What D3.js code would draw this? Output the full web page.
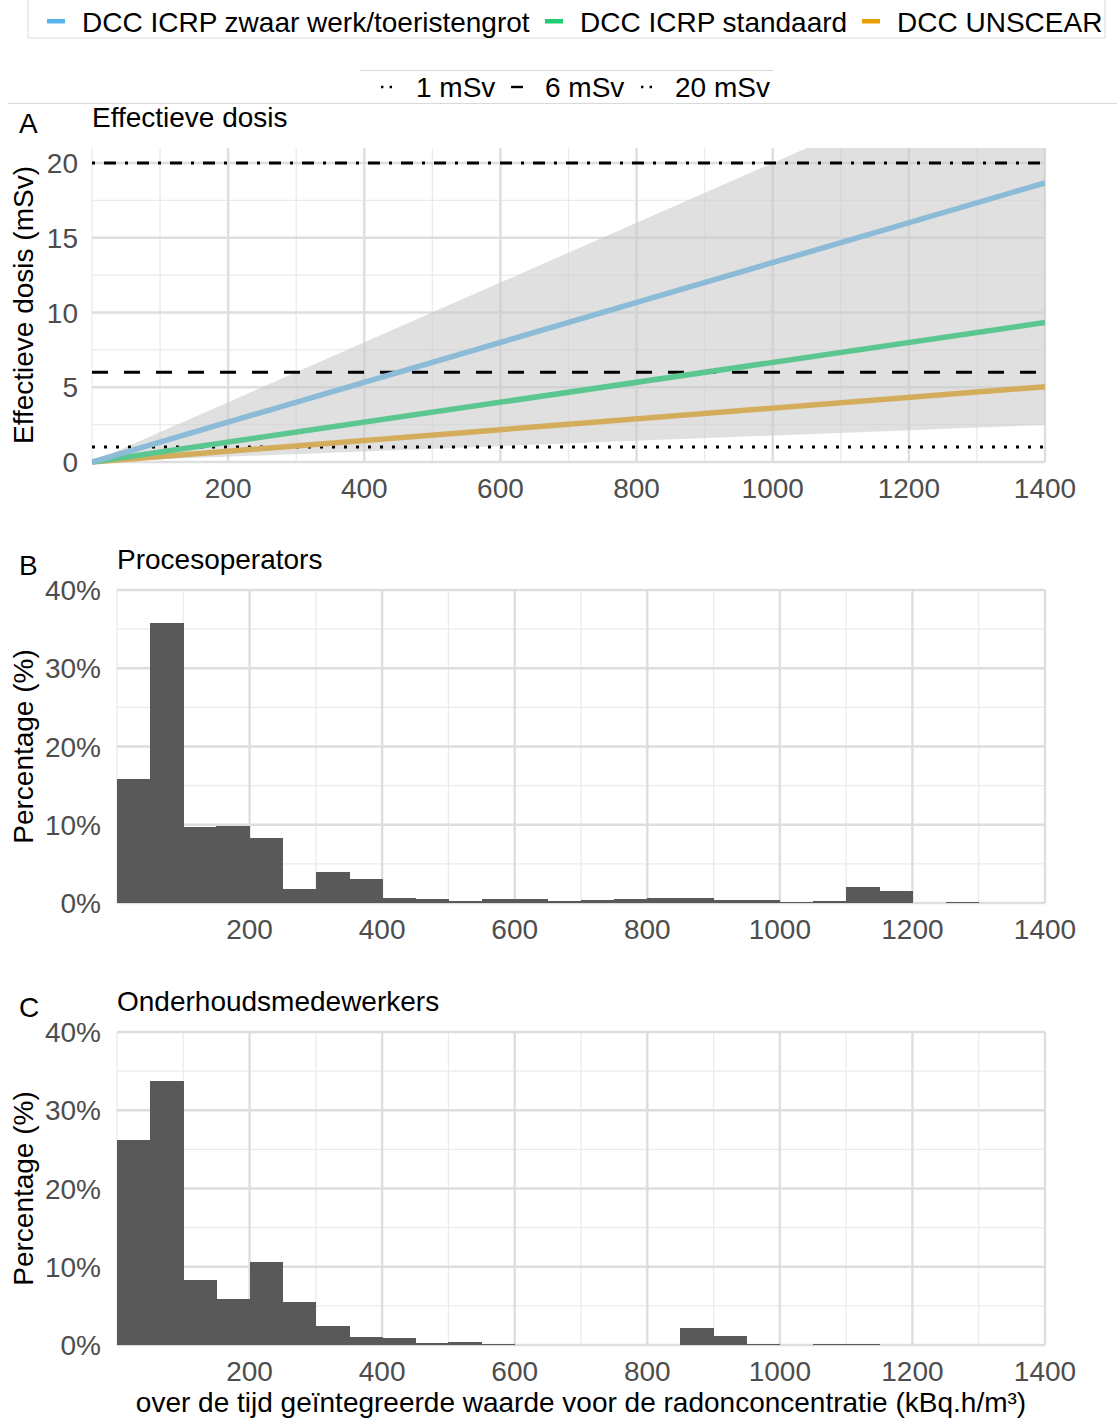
<!DOCTYPE html>
<html>
<head>
<meta charset="utf-8">
<script src="https://cdn.jsdelivr.net/npm/d3@7"></script>
<style>
  body { margin: 0; background: #fff; }
  svg text { font-family: "Liberation Sans", Arial, Helvetica, sans-serif; }
</style>
</head>
<body>
<svg id="chart" width="1117" height="1418"></svg>
<script>
// ---- Panel A: effective dose versus integrated radon exposure ----
const exposure        = [0, 1400];          // kBq.h/m³
const doseHeavyWork   = [0, 18.67];         // mSv, DCC ICRP heavy work / show cave
const doseStandard    = [0, 9.33];          // mSv, DCC ICRP standard
const doseUnscear     = [0, 5.04];          // mSv, DCC UNSCEAR
const bandLower       = [0, 2.48];          // mSv, lower edge of the uncertainty band
const bandUpper       = [0, 28.0];          // mSv, upper edge of the uncertainty band

const seriesNames  = ["DCC ICRP zwaar werk/toeristengrot", "DCC ICRP standaard", "DCC UNSCEAR"];
const keyColors    = ["#56B4E9", "#1FCC6E", "#E6A100"];
const lineColors   = ["#8BBBD7", "#5CC690", "#D4AD5C"];

const refLevels    = [1, 6, 20];
const refLabels    = ["1 mSv", "6 mSv", "20 mSv"];

const doseTicks    = [0, 5, 10, 15, 20];
const doseMinor    = [2.5, 7.5, 12.5, 17.5];
const exposureTicks = [200, 400, 600, 800, 1000, 1200, 1400];
const exposureMinor = [0, 100, 300, 500, 700, 900, 1100, 1300];

// ---- Panels B and C: distribution of exposures (bins of 50 kBq.h/m³) ----
const binStarts = [0, 50, 100, 150, 200, 250, 300, 350, 400, 450, 500, 550, 600, 650,
                   700, 750, 800, 850, 900, 950, 1000, 1050, 1100, 1150, 1200, 1250, 1300, 1350];
const procesoperators = [15.8, 35.8, 9.7, 9.8, 8.3, 1.75, 3.95, 3.05, 0.65, 0.5, 0.2, 0.5, 0.45, 0.25,
                         0.4, 0.5, 0.6, 0.6, 0.35, 0.35, 0.1, 0.2, 2.05, 1.5, 0.05, 0.17, 0.05, 0];
const onderhoud       = [26.2, 33.7, 8.3, 5.9, 10.6, 5.5, 2.45, 1.0, 0.85, 0.3, 0.4, 0.08, 0.05, 0,
                         0, 0, 0, 2.13, 1.2, 0.13, 0, 0.08, 0.08, 0, 0, 0, 0.04, 0];
const binWidth = 50;
const pctTicks = [0, 10, 20, 30, 40];
const pctMinor = [5, 15, 25, 35];

const svg = d3.select("#chart");
const FS = 28;
const tickColor = "#4D4D4D";
const gridMajor = "#DEDEDE", gridMinor = "#EBEBEB";

// ---------- legends ----------
svg.append("rect").attr("x", 28).attr("y", -2).attr("width", 1077).attr("height", 40)
   .attr("fill", "#fff").attr("stroke", "#D9D9D9").attr("stroke-width", 1);
const legKeyX = [47, 545, 862];
const legTextX = [82, 580, 897];
seriesNames.forEach((n, i) => {
  svg.append("rect").attr("x", legKeyX[i]).attr("y", 19).attr("width", 18).attr("height", 4.5)
     .attr("fill", keyColors[i]);
  svg.append("text").attr("x", legTextX[i]).attr("y", 32).attr("font-size", FS).attr("fill", "#000").text(n);
});

svg.append("line").attr("x1", 8).attr("x2", 1117).attr("y1", 103.5).attr("y2", 103.5)
   .attr("stroke", "#D9D9D9").attr("stroke-width", 1);
svg.append("rect").attr("x", 360).attr("y", 70).attr("width", 413).attr("height", 33)
   .attr("fill", "#fff");
svg.append("line").attr("x1", 360).attr("x2", 773).attr("y1", 70.5).attr("y2", 70.5)
   .attr("stroke", "#D9D9D9").attr("stroke-width", 1);

const refDash = ["3,9", "16,16", "3,9,12,9"];
const refKeyDash = ["2.4,6.2", "12,12", "2.4,6.2"];
const refKeyX = [381, 511, 641];
const refKeyLen = [11, 12, 11];
const refTextX = [416, 545, 675];
refLabels.forEach((t, i) => {
  svg.append("line").attr("x1", refKeyX[i]).attr("x2", refKeyX[i] + refKeyLen[i])
     .attr("y1", 87).attr("y2", 87).attr("stroke", "#000").attr("stroke-width", 2.4)
     .attr("stroke-dasharray", refKeyDash[i]);
  svg.append("text").attr("x", refTextX[i]).attr("y", 97).attr("font-size", FS).text(t);
});

// ---------- helpers ----------
function grid(g, x, y, xMaj, xMin, yMaj, yMin) {
  const [x0, x1] = x.range(), [y0, y1] = y.range();
  g.selectAll(null).data(yMin).join("line")
    .attr("x1", x0).attr("x2", x1).attr("y1", d => y(d)).attr("y2", d => y(d))
    .attr("stroke", gridMinor).attr("stroke-width", 1.3);
  g.selectAll(null).data(xMin).join("line")
    .attr("y1", y0).attr("y2", y1).attr("x1", d => x(d)).attr("x2", d => x(d))
    .attr("stroke", gridMinor).attr("stroke-width", 1.3);
  g.selectAll(null).data(yMaj).join("line")
    .attr("x1", x0).attr("x2", x1).attr("y1", d => y(d)).attr("y2", d => y(d))
    .attr("stroke", gridMajor).attr("stroke-width", 2.4);
  g.selectAll(null).data(xMaj).join("line")
    .attr("y1", y0).attr("y2", y1).attr("x1", d => x(d)).attr("x2", d => x(d))
    .attr("stroke", gridMajor).attr("stroke-width", 2.4);
}
function axes(g, x, y, xTicks, yTicks, yFmt, yGap) {
  const yBottom = y.range()[0];
  g.selectAll(null).data(xTicks).join("text")
    .attr("x", d => x(d)).attr("y", yBottom + 36).attr("text-anchor", "middle")
    .attr("font-size", FS).attr("fill", tickColor).text(d => d);
  g.selectAll(null).data(yTicks).join("text")
    .attr("x", x.range()[0] - yGap).attr("y", d => y(d)).attr("dy", "0.36em")
    .attr("text-anchor", "end").attr("font-size", FS).attr("fill", tickColor).text(yFmt);
}
function titles(letter, title, left, top, yTitle, yMid) {
  svg.append("text").attr("x", 19).attr("y", top - 15).attr("font-size", FS).text(letter);
  svg.append("text").attr("x", left).attr("y", top - 21).attr("font-size", FS).text(title);
  svg.append("text").attr("transform", `translate(33,${yMid}) rotate(-90)`)
     .attr("text-anchor", "middle").attr("font-size", FS).text(yTitle);
}

// ---------- Panel A ----------
const A = { left: 92, right: 1045, top: 148, bottom: 462 };
const xA = d3.scaleLinear().domain([0, 1400]).range([A.left, A.right]);
const yA = d3.scaleLinear().domain([0, 21]).range([A.bottom, A.top]);
const gA = svg.append("g");
grid(gA, xA, yA, exposureTicks, exposureMinor, doseTicks, doseMinor);

svg.append("clipPath").attr("id", "clipA").append("rect")
   .attr("x", A.left).attr("y", A.top).attr("width", A.right - A.left).attr("height", A.bottom - A.top + 4);
const plotA = gA.append("g").attr("clip-path", "url(#clipA)");

const band = exposure.map((e, i) => ({ x: e, lo: bandLower[i], hi: bandUpper[i] }));
plotA.append("path").datum(band)
  .attr("d", d3.area().x(d => xA(d.x)).y0(d => yA(d.lo)).y1(d => yA(d.hi)))
  .attr("fill", "#C9C9C9").attr("fill-opacity", 0.58);

refLevels.forEach((lv, i) => {
  plotA.append("line").attr("x1", xA(0)).attr("x2", xA(1400))
    .attr("y1", yA(lv)).attr("y2", yA(lv))
    .attr("stroke", "#000").attr("stroke-width", 3).attr("stroke-dasharray", refDash[i]);
});

const doseSeries = [doseHeavyWork, doseStandard, doseUnscear];
const lineGen = d3.line().x(d => xA(d[0])).y(d => yA(d[1]));
[2, 1, 0].forEach(i => {
  plotA.append("path").datum(exposure.map((e, j) => [e, doseSeries[i][j]]))
    .attr("d", lineGen).attr("fill", "none")
    .attr("stroke", lineColors[i]).attr("stroke-width", 5.5);
});
axes(gA, xA, yA, exposureTicks, doseTicks, d => d, 14);
titles("A", "Effectieve dosis", A.left, A.top, "Effectieve dosis (mSv)", (A.top + A.bottom) / 2);

// ---------- Panels B and C ----------
function histPanel(P, values, letter, title) {
  const x = d3.scaleLinear().domain([0, 1400]).range([P.left, P.right]);
  const y = d3.scaleLinear().domain([0, 40]).range([P.bottom, P.top]);
  const g = svg.append("g");
  grid(g, x, y, exposureTicks, exposureMinor, pctTicks, pctMinor);
  g.append("g").attr("shape-rendering", "crispEdges")
    .selectAll("rect").data(binStarts.map((b, i) => ({ b, v: values[i] }))).join("rect")
    .attr("x", d => x(d.b)).attr("width", d => x(d.b + binWidth) - x(d.b) + 0.6)
    .attr("y", d => y(d.v)).attr("height", d => y(0) - y(d.v))
    .attr("fill", "#595959");
  axes(g, x, y, exposureTicks, pctTicks, d => d + "%", 16);
  titles(letter, title, P.left, P.top, "Percentage (%)", (P.top + P.bottom) / 2);
}
histPanel({ left: 117, right: 1045, top: 590, bottom: 903 }, procesoperators, "B", "Procesoperators");
histPanel({ left: 117, right: 1045, top: 1032, bottom: 1345 }, onderhoud, "C", "Onderhoudsmedewerkers");

svg.append("text").attr("x", 581).attr("y", 1412).attr("text-anchor", "middle")
   .attr("font-size", FS)
   .text("over de tijd geïntegreerde waarde voor de radonconcentratie (kBq.h/m³)");
</script>
</body>
</html>
